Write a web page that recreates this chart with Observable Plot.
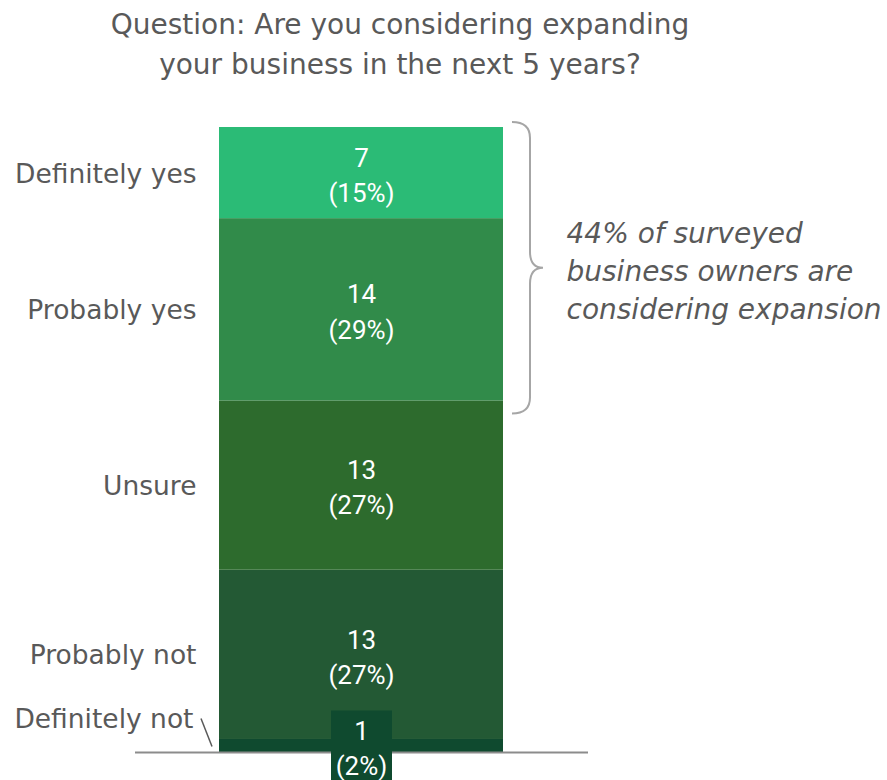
<!DOCTYPE html>
<html><head><meta charset="utf-8">
<script src="https://cdn.jsdelivr.net/npm/d3@7"></script>
<script src="https://cdn.jsdelivr.net/npm/@observablehq/plot@0.6"></script>
<style>
body{margin:0;background:#fff;font-family:"DejaVu Sans",sans-serif;}
#title{width:800px;text-align:center;color:#595959;font-size:28px;line-height:40px;padding-top:5px;height:95px;}
#chart svg{display:block;overflow:visible;}
</style></head><body>
<div id="title">Question: Are you considering expanding<br>your business in the next 5 years?</div>
<div id="chart"></div>
<script>
// data, bottom of the stack first
const categories = ["Definitely not", "Probably not", "Unsure", "Probably yes", "Definitely yes"];
const counts = [1, 13, 13, 14, 7];
const percents = ["2%", "27%", "27%", "29%", "15%"];
const colors = ["#0f4a2f", "#235934", "#2d6b2d", "#318b4a", "#2bbb76"];
const bracketCategories = ["Probably yes", "Definitely yes"];
const annotation = "44% of surveyed\nbusiness owners are\nconsidering expansion";
const groupName = "All responses";

let acc = 0;
const rows = categories.map((c, i) => {
  const y1 = acc; acc += counts[i];
  return {group: groupName, category: c, count: counts[i], y1, y2: acc, mid: (y1 + acc) / 2,
          label: `${counts[i]}\n(${percents[i]})`};
});
const total = acc;
const small = rows.filter(d => d.count < 3);
const normal = rows.filter(d => d.count >= 3);
const br = rows.filter(d => bracketCategories.includes(d.category));
const brLo = d3.min(br, d => d.y1), brHi = d3.max(br, d => d.y2);
const annoRows = [{group: groupName, mid: (brLo + brHi) / 2, text: annotation}];

const gray = "#595959";
const labelFont = "DejaVu Sans, sans-serif";
const plot = Plot.plot({
  width: 887, height: 680,
  marginTop: 27, marginBottom: 28, marginLeft: 219, marginRight: 384,
  x: {domain: [groupName], padding: 0, axis: null},
  y: {domain: [0, total], axis: null},
  color: {domain: categories, range: colors},
  style: {fontFamily: "Roboto, sans-serif", background: "white", overflow: "visible"},
  marks: [
    Plot.barY(rows, {x: "group", y1: "y1", y2: "y2", fill: "category"}),
    Plot.ruleY([0], {stroke: "#8c8c8c", strokeWidth: 2, insetLeft: -84, insetRight: -85}),
    Plot.barY(small, {x: "group", y1: "mid", y2: "mid", fill: "category",
      insetTop: -35, insetBottom: -35, insetLeft: 112, insetRight: 111}),
    Plot.text(rows, {x: "group", y: "mid", text: "label", fill: "white", fontSize: 26, lineHeight: 1.35}),
    Plot.text(normal, {x: "group", y: "mid", text: "category", textAnchor: "end", dx: -165, dy: 1,
      fill: gray, fontSize: 26.5, fontFamily: labelFont}),
    Plot.text(small, {x: "group", y: "mid", text: "category", textAnchor: "end", dx: -168, dy: -26,
      fill: gray, fontSize: 26.5, fontFamily: labelFont}),
    Plot.text(annoRows, {x: "group", y: "mid", text: "text", textAnchor: "start", dx: 205, dy: 5,
      fill: gray, fontSize: 28, fontStyle: "italic", fontFamily: labelFont, lineHeight: 1.36})
  ]
});
document.getElementById("chart").appendChild(plot);

// brace and leader drawn from the plot's own scales
const xs = plot.scale("x"), ys = plot.scale("y");
const svg = d3.select(plot);
const xL = xs.apply(groupName), xR = xL + xs.bandwidth;
const yT = ys.apply(brHi) - 5, yB = ys.apply(brLo) + 13, yM = (yT + yB) / 2;
const a = xR + 9, v = xR + 27, t = xR + 40, r = 16;
svg.append("path")
  .attr("d", `M${a},${yT} Q${v},${yT} ${v},${yT + r} L${v},${yM - r} Q${v},${yM} ${t},${yM} Q${v},${yM} ${v},${yM + r} L${v},${yB - r} Q${v},${yB} ${a},${yB}`)
  .attr("fill", "none").attr("stroke", "#a6a6a6").attr("stroke-width", 2);
small.forEach(d => {
  const ym = ys.apply(d.mid);
  svg.append("line")
    .attr("x1", xL - 18).attr("y1", ym - 27)
    .attr("x2", xL - 7).attr("y2", ym + 1)
    .attr("stroke", gray).attr("stroke-width", 1.5);
});
</script>
</body></html>
